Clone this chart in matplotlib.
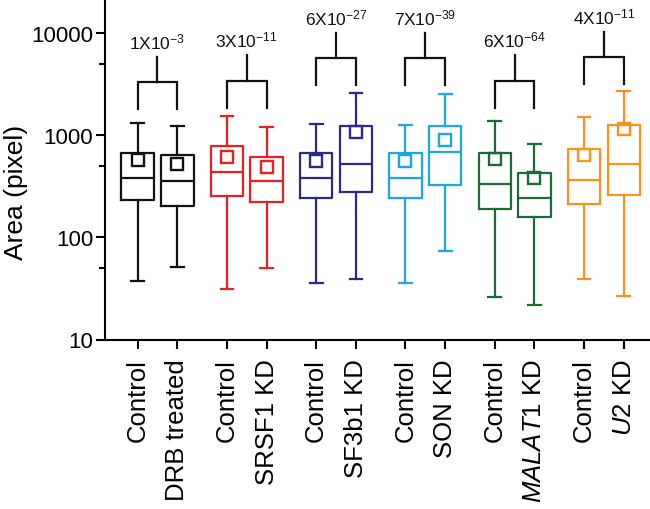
import matplotlib
matplotlib.use("Agg")
import matplotlib.pyplot as plt
from matplotlib.ticker import FixedLocator, NullFormatter

plt.rcParams['font.family'] = ['Liberation Sans', 'DejaVu Sans']
plt.rcParams['mathtext.fontset'] = 'custom'
plt.rcParams['mathtext.rm'] = 'Liberation Sans'
plt.rcParams['mathtext.it'] = 'Liberation Sans:italic'
plt.rcParams['mathtext.bf'] = 'Liberation Sans:bold'

# ---------------- data ----------------
labels = ["Control", "DRB treated", "Control", "SRSF1 KD", "Control", "SF3b1 KD",
          "Control", "SON KD", "Control", r"$\mathit{MALAT1}$ KD", "Control", r"$\mathit{U2}$ KD"]
whisker_low = [37.7, 51, 31, 50, 35.7, 39, 35.5, 74, 25.9, 21.9, 39, 26.5]
q1 = [232, 204, 256, 222, 243, 280, 243, 328, 188, 157, 211, 262]
median = [382, 354, 437, 359, 385, 523, 382, 690, 334, 243, 367, 523]
q3 = [667, 637, 786, 617, 671, 1242, 667, 1242, 671, 425, 734, 1255]
whisker_high = [1311, 1242, 1556, 1213, 1282, 2596, 1270, 2553, 1390, 822, 1511, 2692]
mean = [573, 527, 609, 486, 556, 1084, 556, 906, 586, 379, 641, 1153]

pair_colors = ["#111111", "#e8201f", "#2a2a8c", "#1ca6ea", "#1a6b35", "#f7931e"]
p_values = [r"1X10$^{\mathregular{-3}}$", r"3X10$^{\mathregular{-11}}$", r"6X10$^{\mathregular{-27}}$",
            r"7X10$^{\mathregular{-39}}$", r"6X10$^{\mathregular{-64}}$", r"4X10$^{\mathregular{-11}}$"]
bracket_bar = [3300, 3400, 5700, 5700, 3430, 5800]

yticks = [10, 100, 1000, 10000]
yticklabels = ["10", "100", "1000", "10000"]
yminor = [50, 500, 5000]

# ---------------- figure ----------------
fig = plt.figure(figsize=(6.5, 5.1), dpi=100)
ax = fig.add_axes([105 / 650, 1 - 340.5 / 510, 1 - 105 / 650, 340.5 / 510])

n_pairs = len(pair_colors)
positions = []
colors = []
for i in range(n_pairs):
    positions += [2.25 * i, 2.25 * i + 1]
    colors += [pair_colors[i], pair_colors[i]]

lw = 1.6
for k in range(len(labels)):
    st = dict(med=median[k], q1=q1[k], q3=q3[k], whislo=whisker_low[k],
              whishi=whisker_high[k], mean=mean[k], fliers=[])
    c = colors[k]
    ax.bxp([st], positions=[positions[k]], widths=0.82, capwidths=0.32,
           showmeans=True, showfliers=False, patch_artist=False,
           boxprops=dict(color=c, linewidth=lw),
           whiskerprops=dict(color=c, linewidth=lw),
           capprops=dict(color=c, linewidth=lw),
           medianprops=dict(color=c, linewidth=lw),
           meanprops=dict(marker='s', markerfacecolor='none', markeredgecolor=c,
                          markersize=8, markeredgewidth=1.7))

# brackets
leg_factor = 0.544
stem_factor = 1.78
for i in range(n_pairs):
    x0, x1 = positions[2 * i], positions[2 * i + 1]
    xc = (x0 + x1) / 2
    yb = bracket_bar[i]
    ax.plot([x0, x0, x1, x1], [yb * leg_factor, yb, yb, yb * leg_factor],
            color="#111111", lw=lw, solid_joinstyle='miter', clip_on=False)
    ax.plot([xc, xc], [yb, yb * stem_factor], color="#111111", lw=lw, clip_on=False)
    ax.annotate(p_values[i], xy=(xc, yb * stem_factor), xytext=(0, 4),
                textcoords='offset points', ha='center', va='bottom',
                fontsize=12.5, color='#111111')

ax.set_yscale('log')
ax.set_ylim(10, 21600)
ax.set_xlim(-0.82, 12.91)
ax.yaxis.set_major_locator(FixedLocator(yticks))
ax.set_yticklabels(yticklabels)
ax.yaxis.set_minor_locator(FixedLocator(yminor))
ax.yaxis.set_minor_formatter(NullFormatter())
ax.set_xticks(positions)
ax.set_xticklabels(labels, rotation=90, fontsize=18.5)

ax.tick_params(axis='y', which='major', labelsize=16, length=6.5, width=1.5, pad=2, direction='out')
ax.tick_params(axis='y', which='minor', length=4, width=1.5, direction='out')
ax.tick_params(axis='x', which='major', length=6.5, width=1.5, pad=7, direction='out')

for s in ['top', 'right']:
    ax.spines[s].set_visible(False)
for s in ['left', 'bottom']:
    ax.spines[s].set_linewidth(1.5)

fig.text(16 / 650, 1 - 192.5 / 510, "Area (pixel)", rotation=90, ha='center', va='center',
         fontsize=19)

fig.savefig("out.png", dpi=100)
